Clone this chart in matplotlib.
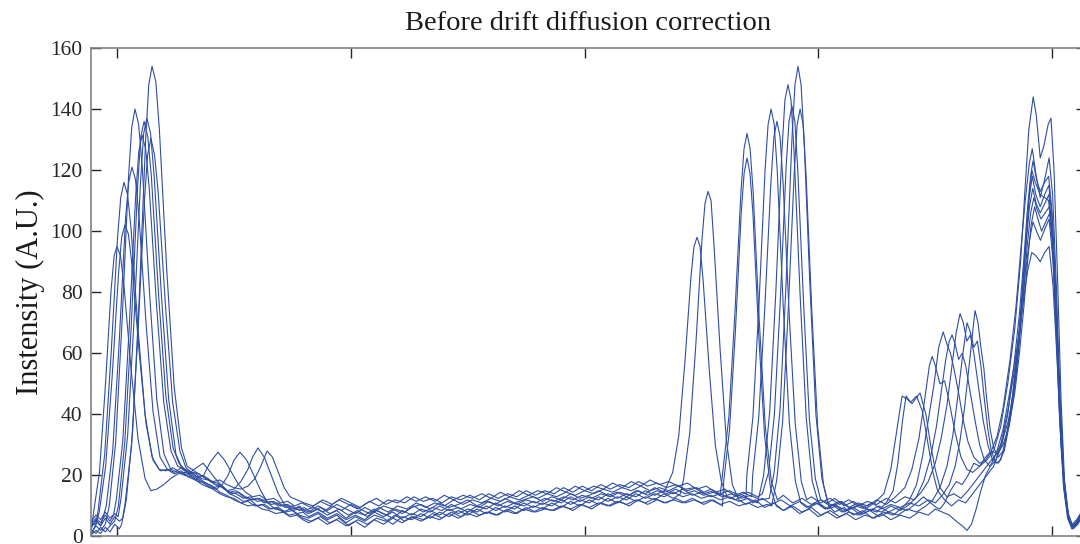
import matplotlib
matplotlib.use("Agg")
import matplotlib.pyplot as plt

# Line profiles (position, intensity)
trace_01 = [(89, 2), (90, 8), (92.5, 21), (95, 49), (97.5, 81), (98.8, 92), (100, 95), (101.5, 92), (103, 82),
            (106, 55), (109, 32), (112, 19), (114.5, 15), (117, 15.5), (120, 17), (123, 19), (126, 20.5),
            (129, 21), (131, 20.5), (133, 21), (136, 19), (139, 18.5), (142, 17), (145, 16.5), (148, 14.5),
            (151, 15), (154, 13), (157, 12), (160, 12.5), (163, 11), (166, 11.5), (169, 10), (172, 10.5), (175, 9),
            (178, 9.5), (182, 8), (186, 10), (190, 8.5), (194, 10.5), (198, 9), (202, 7.5), (206, 9.5), (210, 8),
            (214, 10), (218, 9), (222, 7.5), (226, 9.5), (230, 10.5), (234, 9), (238, 11), (242, 9.5), (246, 10.5),
            (250, 12), (254, 10), (258, 11.5), (262, 10.5), (266, 12.5), (270, 11), (274, 12), (278, 13),
            (282, 11.5), (286, 13), (290, 12), (294, 14), (298, 12.5), (302, 13.5), (306, 15), (310, 13.5),
            (314, 14.5), (318, 13), (322, 15), (326, 14), (330, 16), (334, 14.5), (337.7, 21), (340.3, 33),
            (342.9, 57), (345.5, 85), (346.8, 95), (348.1, 98), (349.4, 95), (350.7, 84), (353.3, 55), (355.9, 30),
            (358.5, 18), (361, 13), (364.5, 12), (368, 13.5), (372, 11), (376, 12.5), (380, 10.5), (384, 12),
            (388, 10), (392, 11.5), (396, 9.5), (400, 11), (404, 9), (408, 10), (412, 8.5), (416, 10), (420, 9),
            (424, 11), (428, 14), (431, 22), (433, 32), (435.8, 46), (438, 45), (440, 43.5), (443.5, 47), (446, 40),
            (448, 30), (450, 22), (452, 16), (455, 13), (458, 14), (461, 12.5), (464, 15), (467, 18), (470, 21),
            (473, 24), (476, 27), (479, 35), (482, 48), (485, 62), (487.5, 76), (489.5, 87), (491.3, 93), (493, 92),
            (494.9, 90), (496.8, 93), (498.7, 95), (500.4, 82), (502.1, 58), (503.8, 30), (505.5, 13), (507.2, 6),
            (508.9, 3.5), (511, 5), (513, 7.5), (514.5, 8.5)]

trace_02 = [(89, 4), (91, 4), (92, 9), (94.75, 27), (97.5, 60), (100.25, 98), (101.6, 111), (103, 116),
            (104.5, 112), (106, 101), (109, 68), (112, 40), (115, 26), (118, 22), (121, 21.5), (124, 22.5),
            (127, 21), (130, 20), (133, 22), (136.8, 24), (139, 22), (142, 19), (145, 16.5), (148, 14), (151, 13),
            (154, 11.5), (157, 12), (160, 10), (163, 10.5), (166, 9), (169, 9.5), (172, 8), (175, 8.5), (178, 7),
            (182, 6), (186, 7.5), (190, 5.5), (194, 7), (198, 4.5), (202, 6.5), (206, 5), (210, 7), (214, 6),
            (218, 4), (222, 6.5), (226, 5.5), (230, 7.5), (234, 6), (238, 8), (242, 6.5), (246, 8.5), (250, 7),
            (254, 9), (258, 7.5), (262, 9.5), (266, 8), (270, 10), (274, 8.5), (278, 10), (282, 9), (286, 11),
            (290, 9.5), (294, 11.5), (298, 10), (302, 12), (306, 10.5), (310, 12.5), (314, 11), (318, 13),
            (322, 11.5), (326, 13), (330, 12), (334, 14), (338, 12.5), (341, 14), (342.4, 19), (345, 34),
            (347.6, 63), (350.2, 97), (351.5, 109), (352.8, 113), (354.1, 110), (355.4, 95), (358, 61), (360.6, 32),
            (363.2, 17), (366, 12), (369, 10.5), (373, 12), (377, 9.5), (381, 11), (385, 8.5), (389, 10), (393, 8),
            (397, 9.5), (401, 7), (405, 8.5), (409, 6.5), (413, 8), (417, 7), (421, 9), (425, 8), (429, 11),
            (432, 15), (434, 24), (436, 38), (437.5, 46), (439.5, 44), (442, 46), (444.5, 41), (447, 30), (449, 21),
            (451, 15), (454, 12), (457, 10), (460, 12), (463, 11), (466, 14), (469, 17), (472, 20), (475, 23),
            (478, 30), (481, 41), (484, 55), (486.5, 70), (488.5, 86), (490.5, 98), (491.8, 103), (493.3, 100),
            (495, 97), (497, 101), (498.7, 104), (500.4, 90), (502.1, 63), (503.8, 32), (505.5, 14), (507.2, 6),
            (508.9, 3), (511, 4.5), (513, 7), (514.5, 9)]

trace_03 = [(89, 1), (91, 4), (92.4, 8), (95.15, 23), (97.9, 52), (100.65, 86), (102, 98), (103.4, 102),
            (104.9, 99), (106.4, 89), (109.4, 61), (112.4, 37), (115.4, 25), (118.5, 21.5), (121.5, 22),
            (124.5, 21), (127.5, 22.5), (130.5, 20.5), (133.5, 18.5), (137, 20), (140, 24.5), (143.2, 27.6),
            (146, 25), (149, 21), (152, 17), (155, 14.5), (158, 13), (161, 13.5), (164, 12), (167, 12.5), (170, 11),
            (173, 11.5), (176, 10), (179, 11), (183, 9.5), (187, 11.5), (191, 10), (195, 12), (199, 10.5), (203, 9),
            (207, 11), (211, 12.5), (215, 10.5), (219, 12), (223, 11), (227, 13), (231, 11.5), (235, 12.5),
            (239, 11), (243, 13), (247, 12), (251, 13.5), (255, 12), (259, 14), (263, 12.5), (267, 14), (271, 13),
            (275, 15), (279, 13.5), (283, 15), (287, 14), (291, 16), (295, 14.5), (299, 16.5), (303, 15), (307, 17),
            (311, 15.5), (315, 17), (319, 16), (323, 18), (327, 16.5), (331, 17.5), (335, 16), (339, 17),
            (343, 15.5), (347, 16), (351, 14), (355, 15), (358, 13.5), (359.1, 21), (361.7, 39), (364.3, 73),
            (366.9, 113), (368.2, 127), (369.5, 132), (370.8, 127), (372.1, 113), (374.7, 71), (377.3, 36),
            (379.9, 18), (382.5, 12), (385, 13.5), (389, 11), (393, 12.5), (397, 10.5), (401, 12), (405, 10),
            (409, 11.5), (413, 9.5), (417, 11), (421, 10), (425, 12), (429, 10.5), (433, 13), (437, 16), (440, 22),
            (443, 32), (445.5, 45), (447.5, 56), (448.7, 59), (450, 56), (452, 50), (454, 51), (456, 44),
            (458.5, 34), (461, 26), (463.5, 22), (466, 21), (469, 23), (472, 25), (475, 28), (478, 36), (481, 50),
            (484, 68), (486.5, 90), (488.5, 115), (490, 133), (491.9, 144), (493.2, 138), (494.9, 124), (496.5, 128),
            (498.3, 135), (499.5, 137), (500.8, 120), (502.3, 85), (503.8, 45), (505.3, 18), (507, 7), (508.7, 3),
            (510.5, 4), (512.5, 6.5), (514.5, 8)]

trace_04 = [(89, 3), (91, 5), (93, 3.5), (95.4, 10), (98.15, 28), (100.9, 63), (103.65, 104), (105, 116),
            (106.4, 121), (107.9, 117), (109.4, 105), (112.4, 70), (115.4, 41), (118.4, 26), (121.5, 22),
            (124.5, 20.5), (127.5, 21.5), (130.5, 19.5), (133.5, 18.5), (136.5, 17), (139.5, 16), (142.5, 15.5),
            (145, 17), (147.5, 20), (150, 25), (152.6, 27.6), (155.5, 25), (158.5, 20), (161.5, 15),
            (164.5, 11), (167.5, 9), (170.5, 8.5), (173.5, 7), (176.5, 7.5), (179.5, 6), (183, 5), (187, 6.5),
            (191, 4.5), (195, 6), (199, 3.5), (203, 5.5), (207, 4), (211, 6), (215, 5), (219, 7), (223, 5),
            (227, 6.5), (231, 5.5), (235, 7.5), (239, 6), (243, 8), (247, 6.5), (251, 8.5), (255, 7), (259, 8),
            (263, 7), (267, 9), (271, 7.5), (275, 9.5), (279, 8), (283, 9), (287, 8.5), (291, 10), (295, 8.5),
            (299, 10.5), (303, 9), (307, 11), (311, 10), (315, 11.5), (319, 10), (323, 12), (327, 10.5), (331, 12),
            (335, 11), (339, 12.5), (343, 11), (347, 12), (351, 10.5), (355, 12), (359, 10), (359.5, 18),
            (362, 35), (364.5, 67), (367, 106), (368.25, 119), (369.5, 124), (370.75, 119), (372, 106),
            (374.5, 66), (377, 33), (379.5, 16), (382, 10), (385, 8.5), (388, 10), (392, 7.5), (396, 9),
            (400, 6.5), (404, 8), (408, 6), (412, 7.5), (416, 5.5), (420, 7), (424, 6), (428, 8), (432, 7),
            (436, 9.5), (439, 12), (442, 17), (444.5, 26), (447, 38), (449.5, 50), (451.5, 62), (453.4, 67),
            (455, 63), (456.5, 60), (458, 55), (460, 47), (462, 38), (464, 31), (466.5, 26), (469, 24),
            (471.5, 25), (474, 28), (476.5, 33), (479, 42), (482, 58), (484.5, 75), (486.5, 93), (488.5, 110),
            (490.2, 122), (491.5, 127), (493, 119), (494.9, 111), (496.8, 117), (498.7, 124), (500.2, 112),
            (501.8, 82), (503.4, 45), (505, 20), (506.7, 8), (508.5, 4), (510.5, 5.5), (512.5, 8), (514.5, 10)]

trace_05 = [(89, 1), (91, 3.5), (93, 2), (95, 4), (96.7, 10), (99.45, 31), (102.2, 71), (104.95, 118),
            (106.3, 134), (107.7, 140), (109.25, 135), (110.8, 121), (113.9, 80), (117, 45), (120.1, 27),
            (123, 22), (126, 21), (129, 20), (132, 19.5), (135, 18), (138, 17.5), (141, 16), (144, 16.5), (147, 15),
            (150, 15.5), (153, 18), (156, 22), (158, 26), (160.3, 29), (163, 26), (166, 20), (169, 14), (172, 10),
            (175, 8.5), (178, 9), (182, 7.5), (186, 9), (190, 7), (194, 8.5), (198, 6), (202, 8), (206, 7), (210, 9),
            (214, 7.5), (218, 6), (222, 8.5), (226, 7), (230, 9), (234, 8), (238, 10), (242, 8.5), (246, 9.5),
            (250, 8), (254, 10), (258, 9), (262, 11), (266, 9.5), (270, 11), (274, 10), (278, 11.5), (282, 10.5),
            (286, 12), (290, 11), (294, 13), (298, 11.5), (302, 13), (306, 12), (310, 14), (314, 12.5), (318, 14),
            (322, 13), (326, 15), (330, 13.5), (334, 15), (338, 14), (342, 15.5), (346, 13.5), (350, 14.5),
            (354, 13), (358, 14), (362, 12.5), (366, 13.5), (369, 12.5), (369.4, 20), (372, 39), (374.6, 76),
            (377.2, 120), (378.5, 135), (379.8, 140), (381.1, 135), (382.4, 120), (385, 75), (387.6, 37),
            (390.2, 18), (392.5, 11), (395, 9.5), (399, 11), (403, 9), (407, 10.5), (411, 8), (415, 9.5),
            (419, 7.5), (423, 9), (427, 8), (431, 10), (435, 8.5), (439, 10.5), (442, 13), (445, 18), (448, 26),
            (450.5, 36), (452.5, 47), (454.5, 58), (456, 64), (457.2, 66), (458.5, 63), (460, 58), (461.5, 60),
            (463, 56), (465, 47), (467, 38), (469, 30), (471, 25), (473.5, 23), (476, 25), (478.5, 30), (481, 40),
            (483.5, 55), (486, 73), (488, 92), (489.5, 108), (490.8, 118), (491.8, 123), (493.3, 117),
            (494.9, 113), (496.8, 116), (498.5, 118), (500, 106), (501.7, 78), (503.3, 44), (505, 19), (506.8, 7),
            (508.6, 3), (510.5, 5), (512.5, 7), (514.5, 8.5)]

trace_06 = [(89, 4), (91, 6), (93, 4.5), (95, 7), (97, 5), (98.5, 7), (99.7, 12), (102.45, 31), (105.2, 68),
            (107.95, 111), (109.3, 126), (110.7, 131.5), (112.25, 127), (113.8, 114), (116.9, 76), (120, 44),
            (123.1, 28), (126, 23), (129, 22), (132, 21), (135, 20.5), (138, 19), (141, 18), (144, 18.5), (147, 17),
            (150, 16), (153, 15.5), (156, 16.5), (159, 19), (161.5, 23), (164.2, 28), (166.5, 26), (169, 21),
            (171.5, 16), (174, 13), (177, 12), (180, 11), (184, 10), (188, 12), (192, 10.5), (196, 12.5), (200, 11),
            (204, 9.5), (208, 11.5), (212, 10), (216, 12), (220, 11), (224, 13), (228, 11.5), (232, 13),
            (236, 11.5), (240, 13.5), (244, 12), (248, 13.5), (252, 12.5), (256, 14), (260, 12.5), (264, 14.5),
            (268, 13), (272, 15), (276, 13.5), (280, 15), (284, 14), (288, 16), (292, 14.5), (296, 16.5), (300, 15),
            (304, 16.5), (308, 15.5), (312, 17.5), (316, 16), (320, 18), (324, 16.5), (328, 18.5), (332, 17),
            (336, 18), (340, 16.5), (344, 17.5), (348, 15.5), (352, 16.5), (356, 14.5), (360, 15.5), (364, 13.5),
            (368, 14.5), (371.5, 13), (371.9, 20), (374.5, 39), (377.1, 75), (379.7, 116), (381, 131),
            (382.3, 136), (383.6, 131), (384.9, 116), (387.5, 73), (390.1, 37), (392.7, 18), (395, 12),
            (397, 13), (401, 11), (405, 12.5), (409, 10.5), (413, 12), (417, 10), (421, 11.5), (425, 10.5),
            (429, 12.5), (433, 11), (437, 13), (441, 12), (444, 14.5), (447, 18), (450, 24), (452.5, 32), (455, 43),
            (457, 55), (459, 67), (460.6, 73), (462, 70), (463.5, 64), (465, 66), (466.5, 60), (468.5, 49),
            (470.5, 38), (472.5, 30), (474.5, 25), (477, 24), (479.5, 28), (482, 38), (484.5, 52), (486.5, 70),
            (488.5, 92), (490, 110), (491.3, 120), (492.8, 116), (494.9, 112), (496.8, 111), (498.5, 110),
            (500, 97), (501.6, 70), (503.2, 38), (504.9, 16), (506.6, 6), (508.4, 2.5), (510.5, 4), (512.5, 6),
            (514.5, 8)]

trace_07 = [(89, 2), (91, 1), (93, 3), (95, 1.5), (97, 3.5), (99, 5), (100.6, 10), (103.35, 31), (106.1, 69),
            (108.85, 115), (110.2, 131), (111.6, 136), (113.15, 131), (114.7, 118), (117.8, 79), (120.9, 46),
            (124, 29), (126.5, 24), (129, 22), (132, 20), (135, 18.5), (138, 17), (141, 15.5), (144, 14),
            (147, 13), (150, 12.5), (153, 11), (156, 11.5), (159, 10), (162, 10.5), (165, 9), (168, 9.5), (171, 8),
            (174, 9), (177, 7.5), (179.5, 8), (182, 6.5), (186, 8), (190, 6), (194, 7.5), (198, 5.5), (202, 7),
            (206, 5.5), (210, 8), (214, 6.5), (218, 8), (222, 6), (226, 7.5), (230, 6.5), (234, 8.5), (238, 7),
            (242, 9), (246, 7.5), (250, 9), (254, 8), (258, 10), (262, 8.5), (266, 10), (270, 9), (274, 11),
            (278, 9.5), (282, 11), (286, 10), (290, 12), (294, 10.5), (298, 12), (302, 11), (306, 13), (310, 11.5),
            (314, 13), (318, 12), (322, 14), (326, 12.5), (330, 14), (334, 13), (338, 14.5), (342, 13), (346, 14),
            (350, 12.5), (354, 13.5), (358, 12), (362, 13), (366, 11.5), (370, 12.5), (374, 11), (376.6, 20),
            (379.2, 41), (381.8, 80), (384.4, 126), (385.7, 143), (387, 148), (388.3, 143), (389.6, 126),
            (392.2, 79), (394.8, 39), (397.4, 18), (400, 11), (403, 9), (406, 10.5), (410, 8), (414, 9.5),
            (418, 7), (422, 8.5), (426, 6.5), (430, 8), (434, 7), (438, 9), (442, 8), (446, 10), (449, 12),
            (452, 16), (455, 23), (457.5, 33), (459.5, 45), (461.5, 58), (463.6, 70), (465, 67), (466.5, 62),
            (468, 64), (469.5, 56), (471, 45), (472.5, 35), (474, 28), (476, 24), (478, 25), (480, 31),
            (482.5, 42), (485, 58), (487, 77), (488.8, 97), (490.2, 111), (491.5, 118), (493, 112), (494.9, 108),
            (496.8, 112), (498.6, 115), (500.1, 103), (501.8, 74), (503.5, 40), (505.2, 17), (507, 6), (508.8, 3),
            (510.8, 5), (512.7, 7.5), (514.5, 9.5)]

trace_08 = [(89, 5), (91, 7), (93, 5.5), (95, 8), (97, 6), (99, 7.5), (100.5, 6.5), (101.8, 13), (104.55, 33),
            (107.3, 71), (110.05, 116), (111.4, 132), (112.8, 137), (114.35, 132), (115.9, 118), (119, 79),
            (122.1, 45), (125.2, 27), (128, 22), (131, 21), (134, 19.5), (137, 20), (140, 18), (143, 17.5),
            (146, 15.5), (149, 14), (152, 14.5), (155, 13), (158, 12), (161, 12.5), (164, 11), (167, 11.5),
            (170, 10), (173, 10.5), (176, 9), (178, 10), (180, 8.5), (184, 9.5), (188, 8), (192, 10), (196, 8.5),
            (200, 10.5), (204, 9), (208, 7.5), (212, 9.5), (216, 8), (220, 10), (224, 9), (228, 11), (232, 9.5),
            (236, 11), (240, 10), (244, 12), (248, 10.5), (252, 12), (256, 11), (260, 12.5), (264, 11.5), (268, 13),
            (272, 12), (276, 13.5), (280, 12.5), (284, 14), (288, 13), (292, 14.5), (296, 13.5), (300, 15),
            (304, 14), (308, 15.5), (312, 14.5), (316, 16), (320, 15), (324, 16.5), (328, 15), (332, 16), (336, 15),
            (340, 16.5), (344, 15), (348, 16), (351, 14.5), (354, 15.5), (358, 14), (362, 15), (366, 13.5),
            (370, 14.5), (374, 13), (376, 14), (378.7, 21), (381.2, 40), (383.7, 77), (386.2, 121),
            (387.45, 136), (388.7, 141), (389.95, 136), (391.2, 120), (393.7, 76), (396.2, 38), (398.7, 19),
            (401, 12), (404, 11), (407, 12.5), (411, 10), (415, 11.5), (419, 9.5), (423, 11), (427, 9),
            (431, 10.5), (435, 9.5), (439, 11), (443, 10), (447, 12), (450, 11), (453, 13.5), (456, 17),
            (458.5, 23), (460.5, 31), (462.5, 42), (464.5, 56), (466, 67), (467, 74), (468.3, 70), (469.5, 62),
            (470.8, 55), (472, 45), (473.5, 35), (475, 29), (477, 26), (479, 28), (481, 35), (483, 46), (485, 60),
            (487, 78), (488.8, 96), (490.3, 108), (491.7, 114), (493.2, 109), (494.9, 106), (496.8, 109),
            (498.6, 112), (500, 100), (501.6, 72), (503.2, 40), (504.9, 17), (506.7, 7), (508.6, 3.5), (510.6, 5),
            (512.6, 8), (514.5, 10)]

trace_09 = [(89, 0.5), (91, 2), (93, 1), (95, 3), (97, 1.5), (99, 4), (101, 2.5), (102, 4), (103.5, 11),
            (106.25, 30), (109, 67), (111.75, 110), (113.1, 125), (114.5, 130.4), (116.05, 125), (117.6, 113),
            (120.7, 76), (123.8, 44), (126.9, 28), (129.5, 22.5), (132, 21), (135, 19), (138, 17.5), (141, 16.5),
            (144, 14.5), (147, 13.5), (150, 12), (153, 11), (156, 10), (159, 10.5), (162, 9), (165, 8.5),
            (168, 7.5), (171, 8), (174, 6.5), (177, 7), (179.5, 5.5), (182, 4.5), (186, 6), (190, 4), (194, 5.5),
            (198, 3.5), (202, 5), (206, 3), (210, 5.5), (214, 4), (218, 6), (222, 4.5), (226, 6.5), (230, 5),
            (234, 6.5), (238, 5.5), (242, 7.5), (246, 6), (250, 7.5), (254, 6.5), (258, 8), (262, 7), (266, 8.5),
            (270, 7.5), (274, 9), (278, 8), (282, 9.5), (286, 8.5), (290, 10), (294, 9), (298, 10.5), (302, 9.5),
            (306, 11), (310, 10), (314, 11.5), (318, 10.5), (322, 12), (326, 11), (330, 12.5), (334, 11), (338, 12),
            (342, 11), (346, 12.5), (350, 11), (354, 12), (358, 10.5), (362, 11.5), (366, 10), (370, 11),
            (374, 9.5), (378, 10.5), (380, 10), (382.2, 18.5), (384.7, 37.5), (387.2, 75.5), (389.7, 119.5),
            (390.95, 135), (392.2, 140), (393.45, 135), (394.7, 119), (397.2, 74), (399.7, 36), (402.2, 17),
            (404.5, 10), (407, 8), (411, 9.5), (415, 7), (419, 8.5), (423, 6), (427, 7.5), (431, 5.5), (435, 7),
            (439, 6), (443, 8), (447, 7), (450, 9), (453, 8), (456, 7), (459, 5), (461.5, 3.5), (463.6, 2),
            (465.5, 4), (467.5, 9), (469.5, 15), (471.5, 20), (473.5, 23), (476, 27), (478.5, 31), (481, 37),
            (483.5, 47), (485.5, 60), (487.5, 77), (489.3, 95), (490.8, 106), (492.2, 111), (493.6, 107),
            (495.2, 104), (497, 106), (498.8, 108), (500.3, 97), (501.9, 70), (503.5, 38), (505.2, 16), (507, 6),
            (508.9, 2.5), (510.9, 4.5), (512.8, 7), (514.5, 8.5)]

trace_10 = [(89, 3), (91, 5.5), (93, 3.5), (95, 6), (97, 4), (99, 6.5), (101, 5), (102.5, 6), (104, 12),
            (106.75, 35), (109.5, 78), (112.25, 130), (113.6, 148), (115, 154), (116.6, 149), (118.15, 133),
            (121.3, 87), (124.45, 49), (127.6, 29), (130, 23), (133, 21.5), (136, 20), (139, 19), (142, 17),
            (145, 16.5), (148, 14.5), (151, 14), (154, 12.5), (157, 13), (160, 11.5), (163, 12), (166, 10.5),
            (169, 11), (172, 9.5), (175, 10), (178, 8.5), (180, 9.5), (183, 8), (187, 9.5), (191, 7.5), (195, 9),
            (199, 7), (203, 8.5), (207, 6.5), (211, 8.5), (215, 7), (219, 9), (223, 8), (227, 10), (231, 8),
            (235, 9.5), (239, 8.5), (243, 10.5), (247, 9), (251, 10.5), (255, 9.5), (259, 11.5), (263, 10),
            (267, 11.5), (271, 10.5), (275, 12), (279, 11), (283, 12.5), (287, 11.5), (291, 13), (295, 12),
            (299, 13.5), (303, 12.5), (307, 14), (311, 13), (315, 14.5), (319, 13.5), (323, 15), (327, 13.5),
            (331, 15), (335, 14), (339, 15.5), (343, 14), (347, 15), (351, 13.5), (355, 14.5), (359, 13), (363, 14),
            (367, 12.5), (371, 13.5), (375, 12), (379, 12.5), (381.1, 21), (383.65, 42), (386.2, 83),
            (388.75, 131), (390, 148), (391.3, 154), (392.6, 148), (393.85, 131), (396.4, 82), (398.95, 40),
            (401.5, 19), (404, 11), (406.5, 10), (410, 11.5), (414, 9), (418, 10.5), (422, 8.5), (426, 10),
            (430, 8), (434, 9.5), (438, 8.5), (442, 11), (445, 13), (448, 11), (450.5, 9.5), (452, 9), (454, 11),
            (456.5, 15), (459, 18), (461.5, 17), (464, 20), (466.5, 24), (469, 23), (471.5, 26), (474, 28),
            (476.5, 27), (479, 30), (481.5, 36), (484, 47), (486, 60), (488, 76), (489.7, 92), (491, 102),
            (492.5, 108), (493.9, 104), (495.5, 100), (497.2, 103), (499, 106), (500.5, 94), (502, 68), (503.6, 36),
            (505.3, 15), (507.1, 5.5), (509, 2.5), (511, 4), (512.8, 6.5), (514.5, 8)]

traces = [trace_01, trace_02, trace_03, trace_04, trace_05,
          trace_06, trace_07, trace_08, trace_09, trace_10]

x_ticks = [100, 200, 300, 400, 500]
y_ticks = [0, 20, 40, 60, 80, 100, 120, 140, 160]
title = "Before drift diffusion correction"
ylabel = "Instensity (A.U.)"
line_color = "#2f4ea1"

plt.rcParams["font.family"] = ["Liberation Serif", "DejaVu Serif"]

fig = plt.figure(figsize=(10.8, 5.44), dpi=100)
# axes run off the right and bottom edges, as in the cropped reference
ax = fig.add_axes([0.0843, 0.0138, 0.9213, 0.898])

for tr in traces:
    xs, ys = zip(*tr)
    ax.plot(xs, ys, color=line_color, lw=0.8)

ax.set_xlim(88.9, 514.5)
ax.set_ylim(0, 160)
ax.set_xticks(x_ticks)
ax.set_yticks(y_ticks)
ax.tick_params(direction="in", length=7, width=1, top=True, right=True,
               labelbottom=False, labelsize=15.5, pad=6, colors="#262626")
for s in ax.spines.values():
    s.set_color("#808080")
    s.set_linewidth(1.2)

ax.set_title(title, fontsize=20.5, pad=13, color="#1a1a1a")
ax.set_ylabel(ylabel, fontsize=22, color="#1a1a1a")
ax.yaxis.set_label_coords(-0.046, 0.5)

fig.savefig("out.png", dpi=100)
